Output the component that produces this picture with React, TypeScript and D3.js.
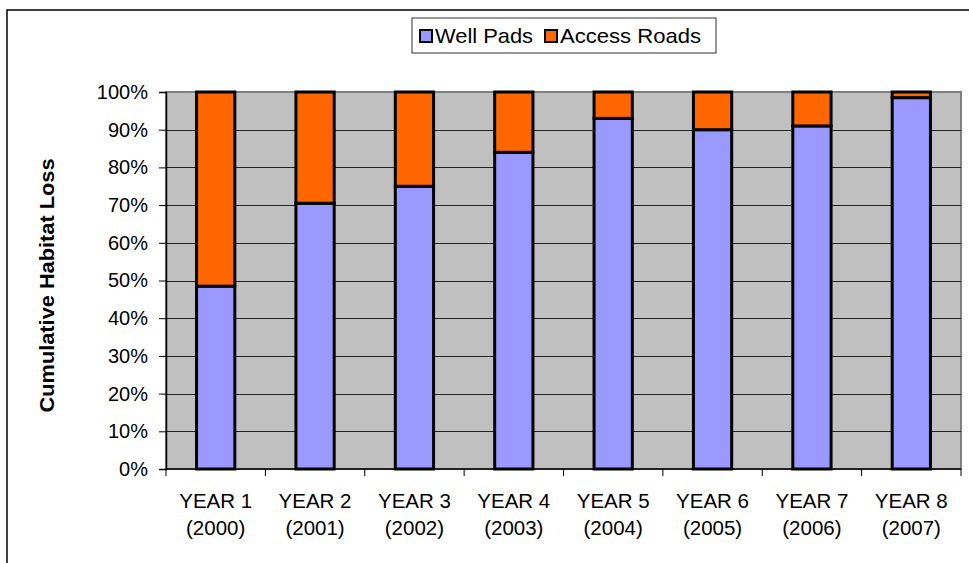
import { useEffect, useRef } from "react";
import * as d3 from "d3";

const categories = ["YEAR 1", "YEAR 2", "YEAR 3", "YEAR 4", "YEAR 5", "YEAR 6", "YEAR 7", "YEAR 8"];
const years = ["(2000)", "(2001)", "(2002)", "(2003)", "(2004)", "(2005)", "(2006)", "(2007)"];
const wellPads = [48.5, 70.5, 75, 84, 93, 90, 91, 98.5];
const accessRoads = [51.5, 29.5, 25, 16, 7, 10, 9, 1.5];
const yTicks = [0, 10, 20, 30, 40, 50, 60, 70, 80, 90, 100];
const seriesNames = ["Well Pads", "Access Roads"];
const colors = ["#9999FF", "#FF6600"];

const FONT = "'Liberation Sans', Arial, sans-serif";

export default function App() {
  const ref = useRef<SVGSVGElement>(null);

  useEffect(() => {
    const svg = d3.select(ref.current);
    svg.selectAll("*").remove();

    const width = 969;
    const height = 563;
    const plot = { left: 166, right: 961, top: 92, bottom: 469 };

    // outer chart frame (cropped on right and bottom)
    svg.append("path")
      .attr("d", `M7,${height + 5} L7,10 L${width + 5},10`)
      .attr("fill", "none")
      .attr("stroke", "#000")
      .attr("stroke-width", 1.5);

    const x = d3.scaleBand<string>()
      .domain(categories)
      .range([plot.left, plot.right])
      .padding(0);

    const y = d3.scaleLinear()
      .domain([0, 100])
      .range([plot.bottom, plot.top]);

    // plot background
    svg.append("rect")
      .attr("x", plot.left)
      .attr("y", plot.top)
      .attr("width", plot.right - plot.left)
      .attr("height", plot.bottom - plot.top)
      .attr("fill", "#C0C0C0")
      .attr("stroke", "#808080")
      .attr("stroke-width", 2);

    // gridlines
    svg.append("g")
      .selectAll("line")
      .data(yTicks.filter(t => t > 0 && t < 100))
      .enter().append("line")
      .attr("x1", plot.left)
      .attr("x2", plot.right)
      .attr("y1", d => Math.round(y(d)) + 0.5)
      .attr("y2", d => Math.round(y(d)) + 0.5)
      .attr("stroke", "#222")
      .attr("stroke-width", 1);

    // stacked bars
    const rows = categories.map((c, i) => ({ cat: c, wp: wellPads[i], ar: accessRoads[i] }));
    const stack = d3.stack<any>().keys(["wp", "ar"]);
    const layers = stack(rows);
    const barW = x.bandwidth() * 0.385;

    layers.forEach((layer, li) => {
      svg.append("g")
        .selectAll("rect")
        .data(layer)
        .enter().append("rect")
        .attr("x", d => (x(d.data.cat) as number) + (x.bandwidth() - barW) / 2)
        .attr("y", d => y(d[1]))
        .attr("width", barW)
        .attr("height", d => y(d[0]) - y(d[1]))
        .attr("fill", colors[li])
        .attr("stroke", "#000")
        .attr("stroke-width", 3);
    });

    // y axis
    const yAxis = svg.append("g")
      .attr("transform", `translate(${plot.left},0)`)
      .call(d3.axisLeft(y).tickValues(yTicks).tickSize(7).tickFormat(d => `${d}%`));
    yAxis.select(".domain").attr("stroke", "#000").attr("stroke-width", 1.5);
    yAxis.selectAll(".tick line").attr("stroke", "#000");
    yAxis.selectAll("text")
      .attr("x", -18)
      .attr("fill", "#000")
      .style("font-family", FONT)
      .style("font-size", "20px");

    // x axis
    const xAxis = svg.append("g")
      .attr("transform", `translate(0,${plot.bottom})`);
    xAxis.append("line")
      .attr("x1", plot.left)
      .attr("x2", plot.right)
      .attr("y1", 0)
      .attr("y2", 0)
      .attr("stroke", "#000")
      .attr("stroke-width", 1.5);
    const edges = categories.map(c => x(c) as number).concat([plot.right]);
    xAxis.selectAll(".xtick")
      .data(edges)
      .enter().append("line")
      .attr("x1", d => d)
      .attr("x2", d => d)
      .attr("y1", 0)
      .attr("y2", 7)
      .attr("stroke", "#000");

    const labels = svg.append("g")
      .style("font-family", FONT)
      .style("font-size", "20.5px")
      .attr("text-anchor", "middle")
      .attr("fill", "#000");
    categories.forEach((c, i) => {
      const cx = (x(c) as number) + x.bandwidth() / 2;
      labels.append("text").attr("x", cx).attr("y", 508).text(c);
      labels.append("text").attr("x", cx).attr("y", 535).text(years[i]);
    });

    // y axis title
    svg.append("text")
      .attr("transform", "translate(54,285.5) rotate(-90)")
      .attr("text-anchor", "middle")
      .attr("textLength", 254)
      .attr("lengthAdjust", "spacingAndGlyphs")
      .style("font-family", FONT)
      .style("font-size", "20px")
      .style("font-weight", "bold")
      .text("Cumulative Habitat Loss");

    // legend
    const legend = svg.append("g");
    legend.append("rect")
      .attr("x", 412)
      .attr("y", 18)
      .attr("width", 304)
      .attr("height", 35)
      .attr("fill", "#fff")
      .attr("stroke", "#333")
      .attr("stroke-width", 1);
    const legendX = [419, 544];
    const legendLen = [98, 141];
    seriesNames.forEach((name, i) => {
      legend.append("rect")
        .attr("x", legendX[i] + 1)
        .attr("y", 30)
        .attr("width", 12)
        .attr("height", 12)
        .attr("fill", colors[i])
        .attr("stroke", "#000")
        .attr("stroke-width", 2);
      legend.append("text")
        .attr("x", legendX[i] + 16)
        .attr("y", 43)
        .attr("textLength", legendLen[i])
        .attr("lengthAdjust", "spacingAndGlyphs")
        .style("font-family", FONT)
        .style("font-size", "21px")
        .attr("fill", "#000")
        .text(name);
    });
  }, []);

  return (
    <svg
      ref={ref}
      width={969}
      height={563}
      style={{ position: "absolute", left: 0, top: 0, background: "#fff" }}
    />
  );
}
